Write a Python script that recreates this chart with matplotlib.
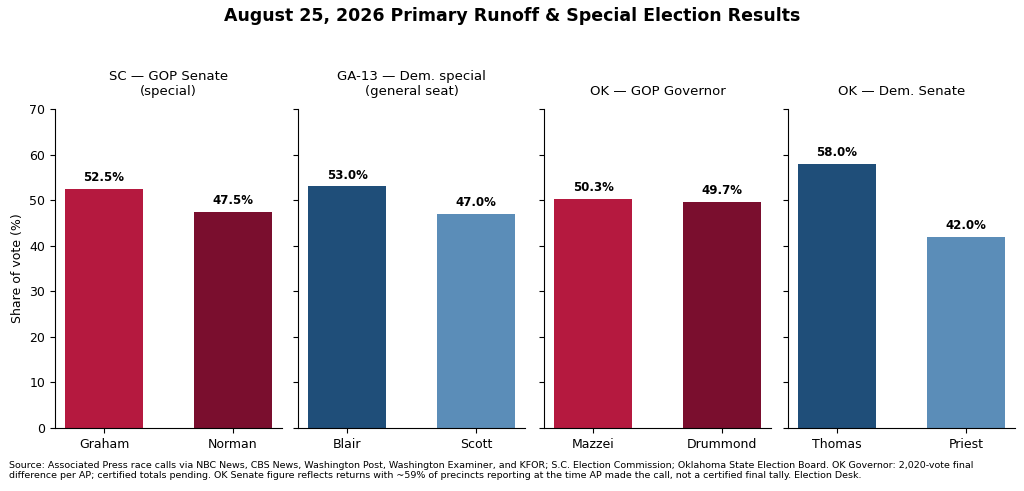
import matplotlib
matplotlib.use("Agg")
import matplotlib.pyplot as plt

titles = ["SC — GOP Senate\n(special)", "GA-13 — Dem. special\n(general seat)", "OK — GOP Governor", "OK — Dem. Senate"]
candidates = [["Graham", "Norman"], ["Blair", "Scott"], ["Mazzei", "Drummond"], ["Thomas", "Priest"]]
shares = [[52.5, 47.5], [53.0, 47.0], [50.3, 49.7], [58.0, 42.0]]
colors = [["#B5193F", "#7A0E2E"], ["#1F4E79", "#5B8DB8"], ["#B5193F", "#7A0E2E"], ["#1F4E79", "#5B8DB8"]]

fig = plt.figure(figsize=(10.24, 4.91), dpi=100)
lefts = [55, 298, 544, 788]
width = 227
for i in range(4):
    ax = fig.add_axes([lefts[i] / 1024, 1 - 428 / 491, width / 1024, (428 - 109) / 491])
    bars = ax.bar(candidates[i], shares[i], width=0.6, color=colors[i])
    for b, v in zip(bars, shares[i]):
        ax.text(b.get_x() + b.get_width() / 2, v + 1, f"{v:.1f}%", ha="center", va="bottom",
                fontsize=8.5, fontweight="bold")
    ax.set_ylim(0, 70)
    ax.set_title(titles[i], fontsize=9.5, pad=10)
    ax.spines["top"].set_visible(False)
    ax.spines["right"].set_visible(False)
    ax.tick_params(labelsize=9)
    if i == 0:
        ax.set_ylabel("Share of vote (%)", fontsize=9)
    else:
        ax.tick_params(labelleft=False)

fig.suptitle("August 25, 2026 Primary Runoff & Special Election Results", fontsize=12.5,
             fontweight="bold", y=0.985)
fig.text(0.009, 0.022,
         "Source: Associated Press race calls via NBC News, CBS News, Washington Post, Washington Examiner, and KFOR; S.C. Election Commission; Oklahoma State Election Board. OK Governor: 2,020-vote final\n"
         "difference per AP; certified totals pending. OK Senate figure reflects returns with ~59% of precincts reporting at the time AP made the call, not a certified final tally. Election Desk.",
         fontsize=6.8, ha="left", va="bottom")
fig.savefig("out.png", dpi=100)
